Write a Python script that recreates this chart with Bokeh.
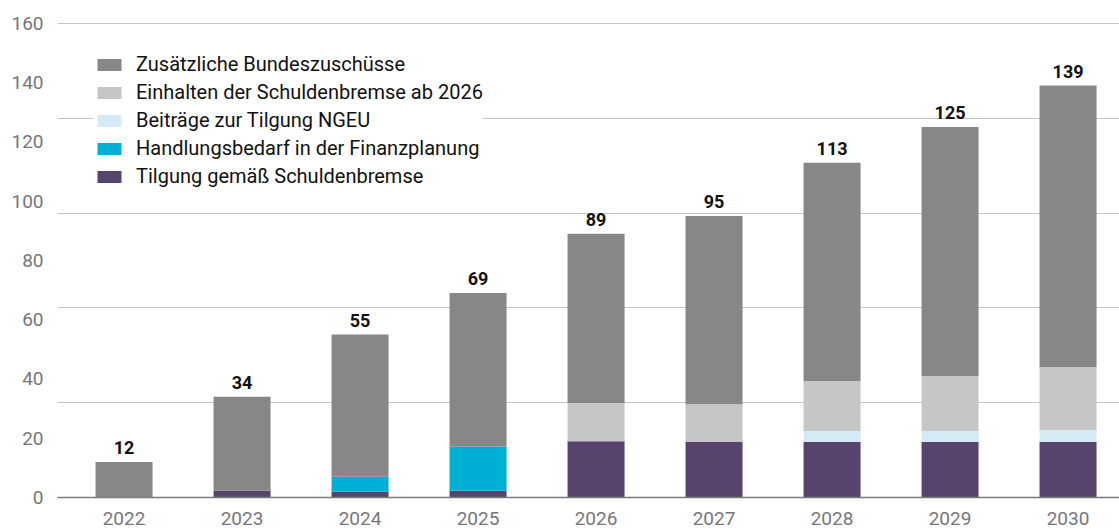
from bokeh.plotting import figure
from bokeh.models import ColumnDataSource, Range1d, FixedTicker, Legend, LegendItem
from bokeh.embed import file_html
from bokeh.resources import INLINE
from bokeh.core.properties import value

years = ["2022", "2023", "2024", "2025", "2026", "2027", "2028", "2029", "2030"]
tilgung = [0, 2.3, 1.9, 2.3, 19.0, 18.7, 18.7, 18.7, 18.7]
handlungsbedarf = [0, 0, 5.1, 14.8, 0, 0, 0, 0, 0]
ngeu = [0, 0, 0, 0, 0, 0, 3.7, 3.7, 4.1]
einhalten = [0, 0, 0, 0, 12.9, 12.8, 16.9, 18.6, 21.2]
totals = [12, 34, 55, 69, 89, 95, 113, 125, 139]
zusaetzlich = [t - a - b - c - d for t, a, b, c, d in zip(totals, tilgung, handlungsbedarf, ngeu, einhalten)]
y_ticks = [0, 20, 40, 60, 80, 100, 120, 140, 160]
grid_lines = [0, 32, 64, 96, 128, 160]

labels = {
    "zusaetzlich": "Zusätzliche Bundeszuschüsse",
    "einhalten": "Einhalten der Schuldenbremse ab 2026",
    "ngeu": "Beiträge zur Tilgung NGEU",
    "handlungsbedarf": "Handlungsbedarf in der Finanzplanung",
    "tilgung": "Tilgung gemäß Schuldenbremse",
}
colors = {
    "tilgung": "#58436c",
    "handlungsbedarf": "#00b0d4",
    "ngeu": "#d4eaf5",
    "einhalten": "#c6c6c6",
    "zusaetzlich": "#878787",
}

x = list(range(len(years)))
src = ColumnDataSource(dict(
    x=x, years=years, tilgung=tilgung, handlungsbedarf=handlungsbedarf, ngeu=ngeu,
    einhalten=einhalten, zusaetzlich=zusaetzlich, totals=totals,
    label=[str(t) for t in totals],
))

FONT = "Roboto"

p = figure(width=1119, height=531,
           x_range=Range1d(-0.564, 8.436), y_range=Range1d(0, 163),
           output_backend="svg", toolbar_location=None,
           min_border_left=57, min_border_right=0, min_border_top=14, min_border_bottom=34)
p.outline_line_color = None
p.background_fill_color = "white"

stack = ["tilgung", "handlungsbedarf", "ngeu", "einhalten", "zusaetzlich"]
rs = p.vbar_stack(stack, x="x", width=0.483, source=src,
                  fill_color=[colors[s] for s in stack], line_color=None)

p.text(x="x", y="totals", text="label", source=src, text_align="center",
       text_baseline="bottom", y_offset=-8, text_font=value(FONT),
       text_font_style="bold", text_font_size="18px", text_color="#111111")

# axes
p.xaxis.ticker = FixedTicker(ticks=x)
p.xaxis.major_label_overrides = {i: y for i, y in enumerate(years)}
p.xaxis.axis_line_color = "#7a7a7a"
p.xaxis.axis_line_width = 1.5
p.xaxis.major_tick_line_color = None
p.xaxis.minor_tick_line_color = None
p.xaxis.major_tick_out = 0
p.xaxis.major_tick_in = 0
p.xaxis.major_label_standoff = 14
p.xaxis.major_label_text_font = FONT
p.xaxis.major_label_text_font_size = "19px"
p.xaxis.major_label_text_color = "#777777"

p.yaxis.ticker = FixedTicker(ticks=y_ticks)
p.yaxis.axis_line_color = None
p.yaxis.major_tick_line_color = None
p.yaxis.minor_tick_line_color = None
p.yaxis.major_tick_out = 0
p.yaxis.major_tick_in = 0
p.yaxis.major_label_standoff = 14
p.yaxis.major_label_text_font = FONT
p.yaxis.major_label_text_font_size = "19px"
p.yaxis.major_label_text_color = "#777777"

p.xgrid.visible = False
p.ygrid.ticker = FixedTicker(ticks=grid_lines)
p.ygrid.grid_line_color = "#c4c4c4"
p.ygrid.grid_line_width = 1

order = ["zusaetzlich", "einhalten", "ngeu", "handlungsbedarf", "tilgung"]
items = [LegendItem(label=labels[k], renderers=[rs[stack.index(k)]]) for k in order]
legend = Legend(items=items, location="top_left", margin=37, padding=19,
                spacing=2, glyph_width=30, glyph_height=15, label_height=26,
                label_standoff=12, label_text_font=FONT, label_text_font_size="20px",
                label_text_color="#111111", border_line_color=None,
                background_fill_color="white", background_fill_alpha=1.0)
p.add_layout(legend)

open("out.html", "w").write(file_html(p, INLINE))
